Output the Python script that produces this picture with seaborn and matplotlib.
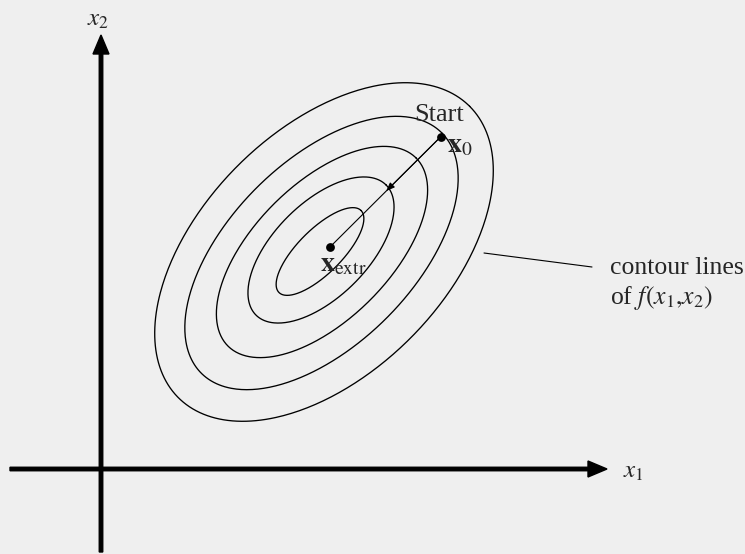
import numpy as np
import pandas as pd
import matplotlib.pyplot as plt
import seaborn as sns

# contour ellipses (image pixel units), innermost -> outermost
levels = [1, 2, 3, 4, 5]
semi_major = [58, 92, 133, 170, 206]
semi_minor = [22, 47, 68, 92, 122]
center_x = [320, 321, 322, 321.5, 324]
center_y = [251.5, 250, 252, 253, 252]
tilt_deg = 45

# points
start_pt = (440.5, 137)
extr_pt = (330, 247)

sns.set_style("white")
plt.rcParams['font.family'] = ['Liberation Serif', 'DejaVu Serif']
plt.rcParams['mathtext.fontset'] = 'stix'

# build ellipse outlines
t = np.linspace(0, 2 * np.pi, 400)
th = -np.deg2rad(tilt_deg)  # y axis points down in image coords
rows = []
for lev, a, b, cx, cy in zip(levels, semi_major, semi_minor, center_x, center_y):
    ex = cx + a * np.cos(t) * np.cos(th) - b * np.sin(t) * np.sin(th)
    ey = cy + a * np.cos(t) * np.sin(th) + b * np.sin(t) * np.cos(th)
    rows.append(pd.DataFrame({'x': ex, 'y': ey, 'level': lev}))
df = pd.concat(rows, ignore_index=True)

fig = plt.figure(figsize=(7.45, 5.54), dpi=100, facecolor='#efefef')
ax = fig.add_axes([0, 0, 1, 1])
ax.set_facecolor('#efefef')
ax.set_xlim(0, 745)
ax.set_ylim(554, 0)
ax.axis('off')

sns.lineplot(data=df, x='x', y='y', units='level', estimator=None, sort=False,
             color='black', linewidth=0.95, ax=ax, legend=False)

# coordinate axes
ax.arrow(10, 469, 597, 0, width=3.5, head_width=16, head_length=19,
         length_includes_head=True, fc='black', ec='black')
ax.arrow(101, 552, 0, -517, width=3.5, head_width=16, head_length=19,
         length_includes_head=True, fc='black', ec='black')
ax.text(98, 20, r'$x_2$', fontsize=18, ha='center', va='center')
ax.text(623, 472, r'$x_1$', fontsize=18, ha='left', va='center')

# search direction
ax.plot([start_pt[0], extr_pt[0]], [start_pt[1], extr_pt[1]], color='black', lw=0.8)
mid = (0.5 * (start_pt[0] + extr_pt[0]) + 1, 0.5 * (start_pt[1] + extr_pt[1]) - 1)
ax.annotate('', xy=mid, xytext=start_pt,
            arrowprops=dict(arrowstyle='-|>,head_length=0.5,head_width=0.2',
                            color='black', lw=0.8, shrinkA=0, shrinkB=0))
pts = pd.DataFrame({'x': [start_pt[0], extr_pt[0]], 'y': [start_pt[1], extr_pt[1]]})
sns.scatterplot(data=pts, x='x', y='y', color='black', s=40, ax=ax, zorder=5, linewidth=0)

ax.text(439, 115, 'Start', fontsize=19, ha='center', va='center')
ax.text(447, 146, r'$\mathbf{x}_0$', fontsize=20, ha='left', va='center')
ax.text(320, 265, r'$\mathbf{x}_{\rm extr}$', fontsize=20, ha='left', va='center')

# label for contour lines
ax.plot([484, 592], [253, 267], color='black', lw=0.8)
ax.text(610, 268, 'contour lines', fontsize=18.5, ha='left', va='center')
ax.text(610, 298, r'of $f(x_1{,}x_2)$', fontsize=18.5, ha='left', va='center')

ax.set_xlabel('')
ax.set_ylabel('')
fig.savefig('out.png', dpi=100, facecolor=fig.get_facecolor())
